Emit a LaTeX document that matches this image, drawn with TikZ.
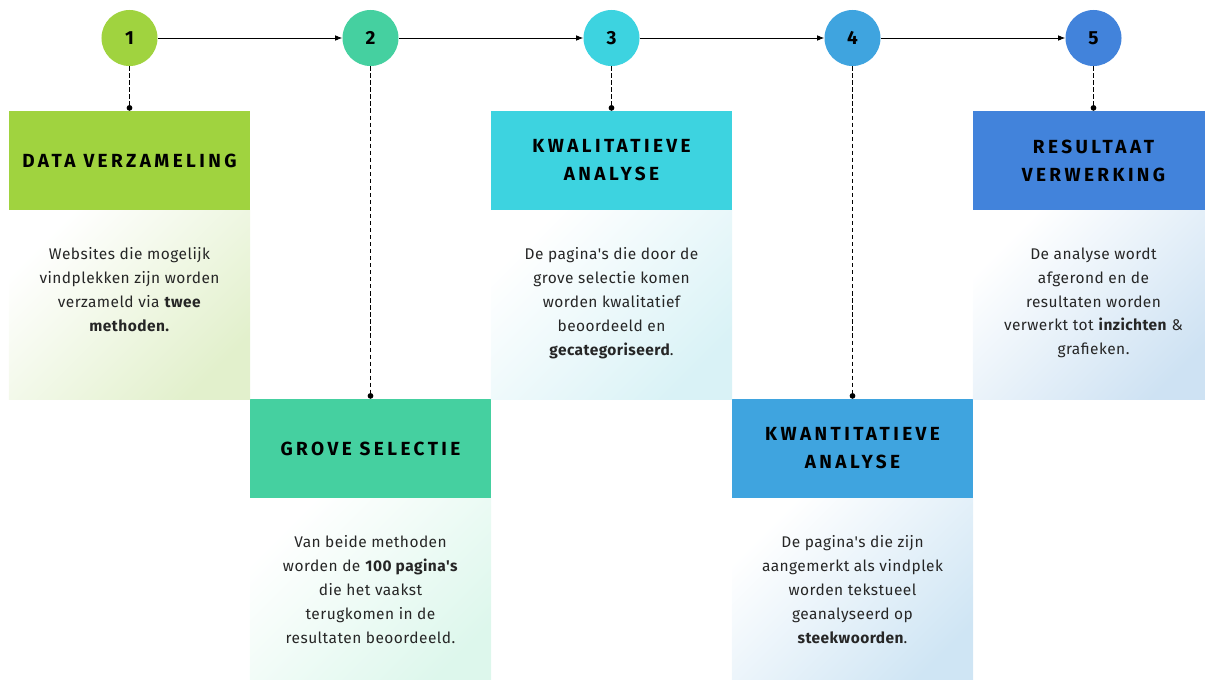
\documentclass[tikz,border=0pt]{standalone}
\usepackage{fontspec}
\setmainfont{Fira Sans}
\newfontfamily\headfont[LetterSpace=18]{Fira Sans}
\newfontfamily\bodyfont[LetterSpace=3]{Fira Sans}
\usetikzlibrary{arrows.meta,positioning}
\definecolor{StepA}{HTML}{A0D33F}
\definecolor{StepB}{HTML}{45D0A0}
\definecolor{StepC}{HTML}{3DD3E0}
\definecolor{StepD}{HTML}{3FA4DF}
\definecolor{StepE}{HTML}{4283DB}
\definecolor{TintA}{HTML}{E2F0CC}
\definecolor{TintB}{HTML}{DDF7EC}
\definecolor{TintC}{HTML}{D9F2F6}
\definecolor{TintD}{HTML}{CFE5F4}
\definecolor{TintE}{HTML}{CEE2F3}

\begin{document}
\begin{tikzpicture}[x=0.025cm,y=-0.025cm,
  num/.style={circle,minimum size=1.4cm,inner sep=0,font=\bfseries\fontsize{13.5}{15}\selectfont},
  head/.style={rectangle,minimum width=6.025cm,minimum height=2.475cm,inner sep=0,align=center,
    font=\headfont\bfseries\fontsize{13.5}{20}\selectfont,text=black},
  body/.style={rectangle,minimum width=6.025cm,minimum height=4.725cm,inner sep=0},
  txt/.style={anchor=north,align=center,inner sep=0,yshift=-0.925cm,
    font=\bodyfont\fontsize{11}{17}\selectfont,text=black!85},
  link/.style={densely dashed,line width=0.8pt,-{Circle[length=4pt]}},
  next/.style={line width=0.6pt,-{Latex[length=5pt,width=4pt]}}]
\useasboundingbox (0,0) rectangle (1205,679);
% Numbers
\node [num,fill=StepA] (c1) at (129.5,38) {1};
\node [num,fill=StepB] (c2) at (370.5,38) {2};
\node [num,fill=StepC] (c3) at (611.5,38) {3};
\node [num,fill=StepD] (c4) at (852.5,38) {4};
\node [num,fill=StepE] (c5) at (1093.5,38) {5};
% Headers
\node [head,fill=StepA] (h1) at (129.5,160.5) {DATA VERZAMELING};
\node [head,fill=StepB] (h2) at (370.5,448.5) {GROVE SELECTIE};
\node [head,fill=StepC] (h3) at (611.5,160.5) {KWALITATIEVE\\ANALYSE};
\node [head,fill=StepD] (h4) at (852.5,448.5) {KWANTITATIEVE\\ANALYSE};
\node [head,fill=StepE] (h5) at (1093.5,160.5) {RESULTAAT\\VERWERKING};
% Bodies
\node [body,below=0pt of h1,top color=white,bottom color=TintA,shading angle=45] (b1) {};
\node [body,below=0pt of h2,top color=white,bottom color=TintB,shading angle=45] (b2) {};
\node [body,below=0pt of h3,top color=white,bottom color=TintC,shading angle=45] (b3) {};
\node [body,below=0pt of h4,top color=white,bottom color=TintD,shading angle=45] (b4) {};
\node [body,below=0pt of h5,top color=white,bottom color=TintE,shading angle=45] (b5) {};
% Texts
\node [txt] (t1) at (b1.north) {Websites die mogelijk\\vindplekken zijn worden\\verzameld via \textbf{twee}\\\textbf{methoden.}};
\node [txt] (t2) at (b2.north) {Van beide methoden\\worden de \textbf{100 pagina's}\\die het vaakst\\terugkomen in de\\resultaten beoordeeld.};
\node [txt] (t3) at (b3.north) {De pagina's die door de\\grove selectie komen\\worden kwalitatief\\beoordeeld en\\\textbf{gecategoriseerd}.};
\node [txt] (t4) at (b4.north) {De pagina's die zijn\\aangemerkt als vindplek\\worden tekstueel\\geanalyseerd op\\\textbf{steekwoorden}.};
\node [txt] (t5) at (b5.north) {De analyse wordt\\afgerond en de\\resultaten worden\\verwerkt tot \textbf{inzichten} \&\\grafieken.};
% Timeline
\draw [next] (c1) -- (c2);
\draw [next] (c2) -- (c3);
\draw [next] (c3) -- (c4);
\draw [next] (c4) -- (c5);
% Drop lines
\draw [link] (c1) -- (h1);
\draw [link] (c2) -- (h2);
\draw [link] (c3) -- (h3);
\draw [link] (c4) -- (h4);
\draw [link] (c5) -- (h5);
\end{tikzpicture}
\end{document}
